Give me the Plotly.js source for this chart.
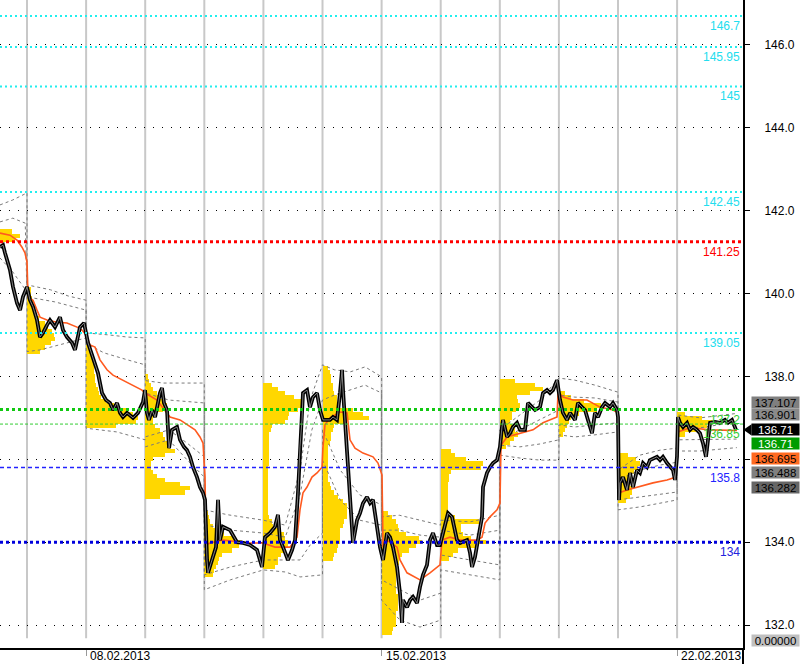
<!DOCTYPE html>
<html><head><meta charset="utf-8">
<script src="https://cdn.plot.ly/plotly-3.0.1.min.js"></script>
<style>html,body{margin:0;padding:0;background:#fff;}#chart{width:800px;height:664px;}</style>
</head><body><div id="chart"></div>
<script>
// ---------- time axis: days (day 1 = 08.02.2013, day 6 = 15.02.2013, day 11 = 22.02.2013)
const dateTickDays = [1, 6, 11];
const dateTickLabels = ['08.02.2013', '15.02.2013', '22.02.2013'];
const daySeparators = [0,1,2,3,4,5,6,7,8,9,10,11];
const priceTicks = [132,134,136,138,140,142,144,146];
const priceTickText = ['132.0','134.0','','138.0','140.0','142.0','144.0','146.0'];

// ---------- price (close path)
const priceT = [-0.457,-0.406,-0.372,-0.321,-0.288,-0.237,-0.169,-0.118,-0.068,0,0.051,0.102,0.169,0.220,0.271,0.338,0.389,0.474,0.558,0.609,0.677,0.761,0.812,0.897,0.964,
1.032,1.117,1.201,1.269,1.337,1.404,1.455,1.523,1.574,1.624,1.692,1.794,1.878,1.963,1.997,2.030,2.064,2.115,2.166,2.250,2.284,2.318,2.369,2.403,2.453,2.538,2.589,2.656,2.707,2.758,2.809,2.876,2.927,2.978,3.012,
3.046,3.063,3.130,3.198,3.232,3.266,3.316,3.435,3.553,3.655,3.773,3.892,3.976,4.027,4.112,4.196,4.247,4.281,4.332,4.416,4.484,4.535,4.585,4.619,4.653,4.670,4.738,4.788,4.839,4.907,4.958,
5.008,5.076,5.127,5.178,5.245,5.296,5.330,5.347,5.381,5.415,5.465,5.499,5.516,5.584,5.635,5.685,5.753,5.804,5.854,5.922,5.973,6.024,6.091,6.142,6.193,6.261,6.311,6.345,6.362,6.430,6.481,6.531,6.599,6.650,6.701,6.768,6.819,6.870,6.937,6.988,
7.039,7.124,7.191,7.276,7.327,7.445,7.496,7.530,7.580,7.631,7.699,7.716,7.783,7.834,7.885,7.953,8.003,8.037,8.054,8.122,8.173,8.223,8.291,8.342,8.426,8.477,8.545,8.596,8.680,8.731,8.799,8.849,8.900,8.968,
9.019,9.069,9.137,9.188,9.272,9.323,9.391,9.442,9.492,9.560,9.611,9.662,9.729,9.780,9.865,9.915,9.983,10.000,10.017,10.034,10.085,10.152,10.203,10.254,10.321,10.372,10.423,10.491,10.541,10.660,10.711,10.761,10.829,10.880,10.931,10.964,10.998,
11.015,11.049,11.100,11.168,11.218,11.269,11.337,11.387,11.438,11.489,11.523,11.557,11.641,11.726,11.810,11.861,11.929,11.997];
const priceV = [141.12,141.17,140.98,140.76,140.57,140.16,139.77,139.60,139.92,140.16,139.84,139.68,139.36,138.95,139.05,139.24,139.36,139.19,139.43,139.12,138.95,138.81,138.64,139.19,139.29,
138.81,138.44,138.08,137.60,137.43,137.36,137.19,137.36,137.12,137.02,137.12,137.00,137.12,137.38,137.67,137.12,136.95,137.19,137.02,137.60,137.72,137.36,137.19,136.27,136.71,136.78,136.47,136.30,136.22,136.06,135.81,135.57,135.33,135.19,135.02,
133.57,133.26,133.57,133.88,135.02,134.05,134.37,134.29,134.00,133.98,133.93,133.81,133.40,134.12,134.22,134.37,134.66,134.05,133.88,133.57,133.81,134.05,135.19,136.30,136.95,137.60,137.67,137.26,137.50,137.60,137.19,
136.95,136.95,136.95,137.02,136.95,137.60,138.16,137.67,136.95,136.15,135.02,134.22,133.98,134.53,134.70,134.94,135.09,134.94,135.02,134.37,133.88,133.57,134.22,134.12,133.88,133.40,132.77,132.05,132.60,132.43,132.60,132.68,132.53,132.92,133.21,133.45,134.05,134.22,133.93,133.93,
134.22,134.70,134.61,134.05,133.98,134.05,133.74,133.40,133.64,134.05,134.61,135.33,135.67,135.81,135.91,135.98,136.30,136.78,136.95,136.54,136.63,136.78,136.88,136.71,136.71,137.36,137.26,137.19,137.26,137.60,137.67,137.60,137.67,137.91,
137.43,137.12,136.95,137.12,136.95,137.36,137.26,137.19,136.95,136.63,137.12,137.02,137.26,137.36,137.26,137.36,137.19,137.02,135.02,135.43,135.57,135.26,135.67,135.33,135.74,135.67,135.91,135.81,135.98,136.06,135.98,136.06,135.91,135.81,135.74,135.50,136.06,
137.02,136.88,136.78,136.88,136.71,136.78,136.71,136.63,136.39,136.06,136.47,136.88,136.90,136.88,136.95,136.88,136.95,136.71];

// ---------- VWAP (orange)
const vwapT = [-0.457,-0.288,-0.169,-0.085,-0.034,0,0.017,0.102,0.169,0.220,0.338,0.508,0.677,0.846,0.931,0.998,1.066,1.151,1.235,1.354,1.455,1.624,1.794,1.946,1.997,2.200,2.301,2.420,2.589,2.758,2.843,2.927,2.978,3.012,3.029,3.096,3.316,3.773,3.993,4.196,4.450,4.569,4.619,4.670,4.738,4.822,4.907,4.992,5.008,5.042,5.127,5.296,5.415,5.465,5.550,5.685,5.854,5.939,6.007,6.024,6.091,6.261,6.311,6.430,6.650,6.819,6.988,7.022,7.157,7.327,7.614,7.699,7.750,7.834,7.953,8.003,8.020,8.122,8.342,8.562,8.731,8.968,8.985,9.069,9.239,9.475,9.695,9.915,10.000,10.017,10.152,10.321,10.592,10.829,10.981,11.015,11.218,11.557,12.014];
const vwapV = [141.46,141.41,141.29,141.12,140.98,140.76,139.92,139.84,139.60,139.43,139.36,139.31,139.29,139.19,139.12,139.00,138.76,138.71,138.40,138.16,138.03,137.91,137.79,137.67,137.60,137.43,137.24,137.02,136.95,136.78,136.71,136.54,136.39,135.57,133.93,133.98,134.05,133.98,133.98,133.88,133.88,134.12,134.78,135.19,135.33,135.57,135.67,135.81,136.30,136.83,137.00,137.14,137.12,136.47,136.27,136.15,136.06,135.91,135.62,133.88,134.05,133.88,133.57,133.26,133.09,133.26,133.45,134.05,134.12,134.05,134.05,134.12,134.46,134.61,134.78,134.94,136.34,136.54,136.63,136.71,136.88,137.02,137.62,137.50,137.43,137.43,137.26,137.19,137.12,135.19,135.26,135.33,135.43,135.50,135.57,136.66,136.76,136.71,136.695];

// ---------- deviation bands (grey dashed)
const bandU2T = [-0.457,-0.24,0, 0,0.4,0.7,1, 1,1.4,1.7,2, 2,2.3,2.6,3, 3,3.4,4, 4.37,4.62,4.79,5, 5.2,5.47,5.72,6, 6,6.3,6.65,7, 7,7.5,8, 8,8.34,8.68,9, 9.27,9.61,10, 10,10.37,10.71,11, 11,11.39,12.01];
const bandU2V = [142.14,142.26,142.43, 140.21,140.09,139.94,139.84, 139.05,139.00,138.95,138.93, 137.90,137.84,137.84,137.84, 134.78,134.66,134.53, 134.41,135.74,137.43,138.28, 138.16,138.11,138.23,137.99, 134.61,134.65,134.53,134.41, 134.53,134.49,134.65, 136.71,137.07,137.43,137.96, 137.91,137.79,137.62, 135.74,136.10,136.22,136.27, 137.07,137.00,137.107];
const bandU1T = [-0.457,-0.24,-0.03, 0,0.47,0.73,1, 1,1.3,1.7,2, 2,2.4,3, 3,3.44,4, 4.37,4.62,4.82,5, 5.2,5.47,5.72,6, 6,6.3,6.65,7, 7,7.5,8, 8,8.34,8.68,9, 9,9.27,9.61,10, 10,10.37,10.71,11, 11,11.39,12.01];
const bandU1V = [141.73,141.82,141.70, 139.92,139.80,139.70,139.60, 138.80,138.57,138.40,138.28, 137.60,137.43,137.36, 134.42,134.29,134.22, 134.12,135.14,136.71,137.43, 137.55,137.67,137.79,137.60, 134.29,134.29,134.17,134.12, 134.29,134.17,134.29, 136.47,136.71,136.95,137.19, 137.55,137.50,137.48,137.38, 135.50,135.74,135.86,135.93, 136.83,136.76,136.901];
const bandL1T = [-0.457,-0.24,0, 0,0.22,0.56,1, 1,1.52,2, 2,2.4,2.7,3, 3,3.44,4, 4.37,4.62,4.79,5, 5,5.3,5.63,6, 6,6.31,6.65,7, 7,7.5,8, 8,8.34,8.68,9, 9,9.27,9.61,10, 10,10.37,10.71,11, 11,11.39,12.01];
const bandL1V = [140.86,140.52,140.04, 138.60,138.64,138.76,138.93, 136.75,136.66,136.47, 136.54,136.71,136.40,136.06, 133.21,133.40,133.57, 133.57,133.57,133.93,134.22, 136.71,135.74,135.14,134.90, 133.09,132.85,132.60,132.77, 133.69,133.57,133.45, 136.34,136.30,136.37,136.47, 136.83,136.78,136.83,136.88, 135.02,135.09,135.14,135.21, 136.47,136.47,136.488];
const bandL2T = [2,2.4,2.7,3, 3,3.44,4, 4.37,4.62,5, 5,5.3,5.63,6, 6,6.31,6.65,7, 7,7.5,8, 8,8.34,8.68,9, 9,9.27,9.61,10, 10,10.37,10.71,11, 11,11.39,12.01];
const bandL2V = [136.30,136.47,136.00,135.57, 132.85,133.09,133.33, 133.28,133.16,133.21, 135.98,135.02,134.53,134.41, 132.60,132.12,131.95,132.12, 133.33,133.21,133.09, 136.10,136.03,135.98,135.98, 136.59,136.54,136.59,136.66, 134.78,134.85,134.94,135.02, 136.20,136.20,136.282];

// ---------- daily volume profiles (length in day units, 0.1 price bins from the low price)
const profileDays = [-1,0,1,2,3,4,5,6,7,8,9,10,11];
const profileLows = [141.3,138.6,136.8,135.1,133.2,133.4,133.6,131.8,133.6,136.3,136.6,135.0,136.6];
const volDayM1 = [0.8,0.88,0.75];
const volDay0 = [0.22,0.30,0.40,0.47,0.45,0.42,0.36,0.30,0.20,0.15,0.13,0.12,0.10,0.08,0.07,0.06];
const volDay1 = [0.5,0.85,0.88,0.8,0.68,0.47,0.34,0.25,0.22,0.2,0.17,0.15,0.15,0.14,0.14,0.14,0.12,0.12,0.1,0.08];
const volDay2 = [0.25,0.68,0.76,0.59,0.34,0.2,0.14,0.1,0.1,0.14,0.34,0.51,0.42,0.37,0.34,0.3,0.25,0.17,0.14,0.14,0.17,0.3,0.37,0.34,0.25,0.2,0.14,0.1,0.07,0.05];
const volDay3 = [0.14,0.17,0.2,0.24,0.25,0.3,0.47,0.59,0.64,0.51,0.34,0.2,0.14,0.1,0.085,0.07,0.05];
const volDay4 = [0.2,0.24,0.25,0.3,0.37,0.41,0.41,0.37,0.34,0.25,0.17,0.14,0.1,0.085,0.085,0.07,0.07,0.07,0.07,0.085,0.085,0.085,0.085,0.085,0.085,0.1,0.1,0.1,0.1,0.1,0.1,0.1,0.1,0.12,0.14,0.37,0.42,0.44,0.59,0.68,0.64,0.51,0.37,0.25,0.14];
const volDay5 = [0.17,0.2,0.24,0.27,0.29,0.3,0.3,0.3,0.34,0.37,0.41,0.42,0.42,0.41,0.34,0.27,0.2,0.15,0.12,0.1,0.1,0.1,0.1,0.1,0.1,0.1,0.1,0.1,0.12,0.14,0.15,0.17,0.19,0.42,0.78,0.68,0.51,0.25,0.25,0.24,0.2,0.17,0.17,0.15,0.14,0.12,0.1];
const volDay6 = [0.17,0.2,0.24,0.25,0.25,0.25,0.27,0.27,0.27,0.27,0.25,0.25,0.25,0.25,0.25,0.27,0.27,0.29,0.3,0.34,0.47,0.59,0.68,0.64,0.42,0.3,0.27,0.24,0.17,0.1];
const volDay7 = [0.14,0.2,0.3,0.59,0.76,0.51,0.37,0.34,0.34,0.64,0.25,0.14,0.12,0.12,0.12,0.12,0.12,0.12,0.12,0.14,0.14,0.17,0.68,0.71,0.42,0.25,0.17];
const volDay8 = [0.1,0.17,0.24,0.3,0.25,0.2,0.17,0.2,0.2,0.27,0.34,0.3,0.29,0.51,0.73,0.59,0.25];
const volDay9 = [0.07,0.1,0.14,0.17,0.2,0.34,0.64,0.71,0.42,0.2,0.1];
const volDay10 = [0.14,0.2,0.24,0.24,0.2,0.2,0.24,0.27,0.34,0.37,0.3,0.17];
const volDay11 = [0.14,0.34,0.51,0.59,0.42,0.14];
const volProfiles = [volDayM1,volDay0,volDay1,volDay2,volDay3,volDay4,volDay5,volDay6,volDay7,volDay8,volDay9,volDay10,volDay11];

// ---------- horizontal levels
const levelValues = [146.7,145.95,145,142.45,141.25,139.05,137.2,136.85,135.8,134];
const levelLabels = ['146.7','145.95','145','142.45','141.25','139.05','137.2','136.85','135.8','134'];
const levelColors = ['#22EEEE','#22EEEE','#22EEEE','#22EEEE','#FF0000','#22EEEE','#11C811','#33CC33','#2222FF','#0000DD'];
const levelTextColors = ['#22DDEE','#22DDEE','#22DDEE','#22DDEE','#FF0000','#22DDEE','#33CC33','#33CC33','#2222FF','#2222DD'];
const levelWidths = [2,2,2,2,3,2,3,1,1.5,3];
const levelDashes = ['2px,3px','2px,3px','2px,3px','2px,3px','3px,3px','2px,3px','3px,3px','3px,2px','4px,3px','3px,3px'];

// ---------- right side value boxes
const sideTexts = ['137.107','136.901','136.71','136.71','136.695','136.488','136.282','0.00000'];
const sidePos = [137.38,137.07,136.71,136.39,136.01,135.67,135.33,131.62];
const sideBg = ['#7f7f7f','#8a8a8a','#000000','#009C00','#FF6A20','#808080','#666666','#C0C0C0'];
const sideFg = ['#000','#000','#fff','#fff','#000','#000','#000','#000'];
const lastPrice = 136.71;

const FONT = 'Liberation Sans, Arial, sans-serif';
const traces = [];

volProfiles.forEach((w, k) => {
  const low = profileLows[k];
  const y = w.map((_, i) => +(low + 0.1 * i).toFixed(2));
  traces.push({type:'bar', orientation:'h', x:w, y:y, base:profileDays[k], width:0.1,
    marker:{color:'#FFD700', line:{width:0}}, hoverinfo:'skip'});
});

[[bandU2T,bandU2V],[bandU1T,bandU1V],[bandL1T,bandL1V],[bandL2T,bandL2V]].forEach(b => {
  traces.push({type:'scatter', mode:'lines', x:b[0], y:b[1],
    line:{color:'#7a7a7a', width:1, dash:'3px,3px'}, hoverinfo:'skip'});
});

traces.push({type:'scatter', mode:'lines', x:vwapT, y:vwapV, line:{color:'#FF5A1F', width:1.6}, hoverinfo:'skip'});
traces.push({type:'scatter', mode:'lines', x:priceT, y:priceV, line:{color:'#000', width:3.8}, hoverinfo:'skip'});
traces.push({type:'scatter', mode:'lines', x:priceT, y:priceV, line:{color:'#8c8c8c', width:0.9}, hoverinfo:'skip'});

const shapes = [];
daySeparators.forEach(d => shapes.push({type:'line', xref:'x', yref:'paper', x0:d, x1:d, y0:0.015, y1:1,
  line:{color:'#C8C8C8', width:2}, layer:'below'}));
levelValues.forEach((v, i) => shapes.push({type:'line', xref:'paper', yref:'y', x0:0, x1:1, y0:v, y1:v,
  line:{color:levelColors[i], width:levelWidths[i], dash:levelDashes[i]}, layer:'above'}));
shapes.push({type:'line', xref:'paper', yref:'paper', x0:1, x1:1, y0:-0.03, y1:0, line:{color:'#000', width:2}});
shapes.push({type:'path', xref:'paper', yref:'y',
  path:'M 1.0005,' + lastPrice + ' L 1.0115,' + (lastPrice + 0.135) + ' L 1.0115,' + (lastPrice - 0.135) + ' Z',
  fillcolor:'#000', line:{width:0}});

const annotations = [];
levelValues.forEach((v, i) => annotations.push({xref:'paper', yref:'y', x:1, y:v, xanchor:'right', yanchor:'top',
  xshift:-1, yshift:-1, text:levelLabels[i], showarrow:false, font:{family:FONT, size:12, color:levelTextColors[i]}}));
dateTickDays.forEach((d, i) => annotations.push({xref:'x', yref:'paper', x:d, y:-8/648, xanchor:'left', yanchor:'middle',
  xshift:2, text:dateTickLabels[i], showarrow:false, font:{family:FONT, size:12, color:'#000'}}));
sideTexts.forEach((t, i) => annotations.push({xref:'paper', yref:'y', x:1 + 8/743, y:sidePos[i], xanchor:'left', yanchor:'middle',
  text:t, showarrow:false, width:47, height:11, borderpad:0, bgcolor:sideBg[i],
  font:{family:FONT, size:11.5, color:sideFg[i]}}));

const layout = {
  width:800, height:664, margin:{l:0, r:57, t:0, b:16},
  paper_bgcolor:'#fff', plot_bgcolor:'#fff', showlegend:false, barmode:'overlay', bargap:0,
  xaxis:{range:[-0.457,12.115], showgrid:false, zeroline:false, showline:true, linecolor:'#000', linewidth:2,
    ticks:'outside', tickvals:dateTickDays, ticklen:6, tickcolor:'#999', tickwidth:1, showticklabels:false, fixedrange:true},
  yaxis:{range:[131.445,147.086], side:'right', tickvals:priceTicks, ticktext:priceTickText, ticks:'outside', ticklen:5,
    tickcolor:'#000', showline:true, linecolor:'#000', linewidth:2, showgrid:true, gridcolor:'#000', gridwidth:1,
    griddash:'1px,8px', zeroline:false, ticklabelstandoff:12, tickfont:{family:FONT, size:12, color:'#000'}, fixedrange:true},
  shapes:shapes, annotations:annotations
};

Plotly.newPlot('chart', traces, layout, {staticPlot:true, displayModeBar:false});
</script></body></html>
